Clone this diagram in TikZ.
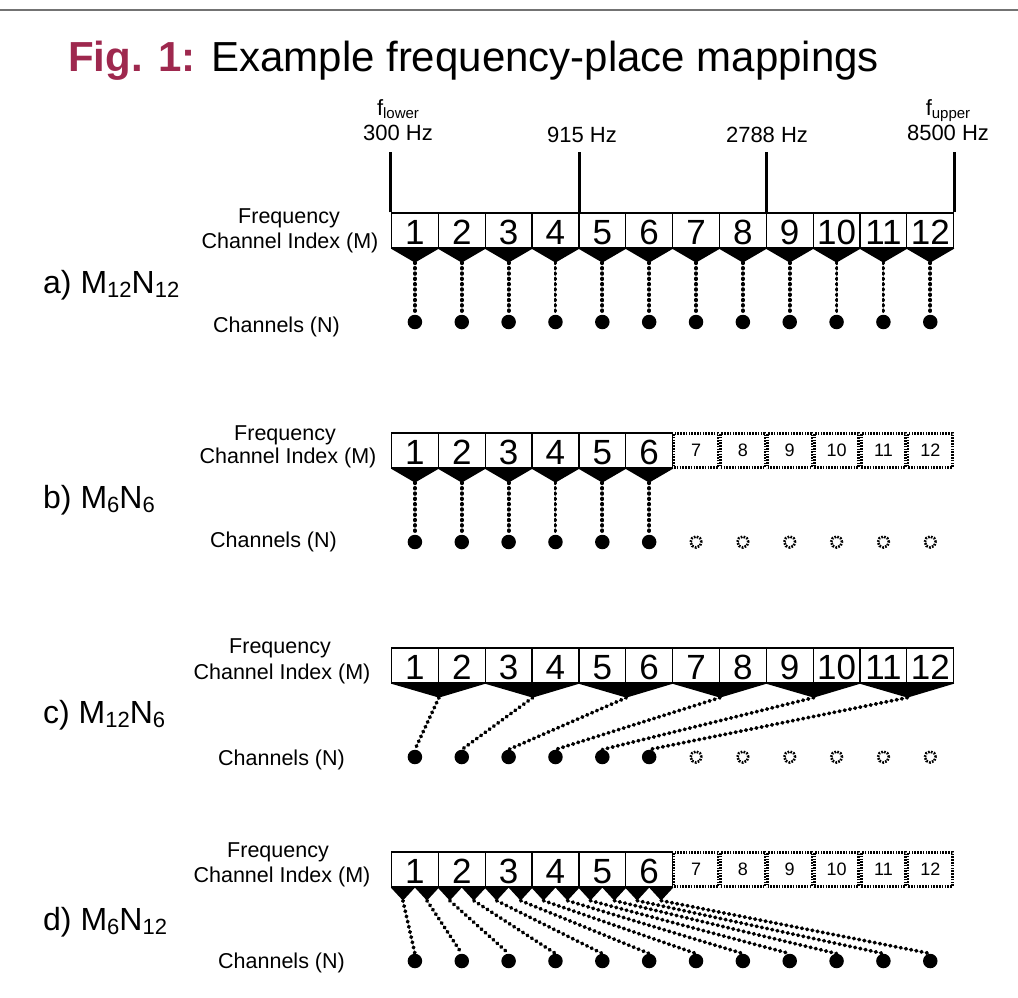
\documentclass[tikz,border=0pt]{standalone}
\usepackage{fontspec}
\setmainfont{Liberation Sans}
\usetikzlibrary{calc}
\definecolor{figred}{RGB}{158,40,78}
\newcommand\panelsub[1]{\raisebox{-4.5pt}{\fontsize{22}{22}\selectfont #1}}
\newcommand\freqsub[1]{\raisebox{-3pt}{\fontsize{15}{15}\selectfont #1}}
\def\xo{391.5}
\def\bw{46.85}
\begin{document}
\begin{tikzpicture}[x=1pt,y=-1pt,
  chanbox/.style={draw,line width=1.2pt,minimum width=46.85pt,minimum height=35pt,inner sep=0pt,
    font=\fontsize{35}{35}\selectfont,text height=28.5pt,text depth=0pt},
  ghostbox/.style={draw,line width=2.6pt,dash pattern=on 1.6pt off 1.2pt,minimum width=44.2pt,
    minimum height=34.2pt,inner sep=0pt,font=\fontsize{18}{18}\selectfont},
  dot/.style={circle,fill,inner sep=0pt,minimum size=14.5pt},
  odot/.style={circle,draw,line width=2.6pt,dash pattern=on 1.7pt off 1.3pt,inner sep=0pt,minimum size=11pt},
  dotline/.style={line width=3.8pt,dash pattern=on 0.7pt off 4.6pt,line cap=round},
  tick/.style={line width=3pt},
  lbl/.style={anchor=base,inner sep=0pt,font=\fontsize{21.5}{24}\selectfont},
  hz/.style={anchor=base,inner sep=0pt,font=\fontsize{22}{24}\selectfont},
  plabel/.style={anchor=base west,inner sep=0pt,font=\fontsize{32}{32}\selectfont}]
\useasboundingbox (0,0) rectangle (1018,997);

% header rule and title
\draw[line width=2pt,black!55] (0,10) -- (1018,10);
\node[anchor=base west,inner sep=0pt,font=\fontsize{42}{48}\selectfont] (title) at (68,71)
  {\textcolor{figred}{\bfseries Fig. 1:} Example frequency-place mappings};

% ---------------- a) M12N12 ----------------
\foreach \k in {1,...,12}
  \node[chanbox] (a-m\k) at ({\xo+(\k-0.5)*\bw},230.5) {\k};
\foreach \k in {1,...,12}{
  \fill (a-m\k.south west) -- (a-m\k.south east) -- ([yshift=-14pt]a-m\k.south) -- cycle;
  \coordinate (a-t\k) at ([yshift=-14pt]a-m\k.south);
  \node[dot] (a-n\k) at ({\xo+(\k-0.5)*\bw},322) {};
  \draw[dotline] (a-t\k) -- (a-n\k.north);
}
% frequency boundaries
\draw[tick] (a-m1.north west) -- ++(0,-60) coordinate (k1);
\draw[tick] (a-m4.north east) -- ++(0,-60) coordinate (k2);
\draw[tick] (a-m8.north east) -- ++(0,-60) coordinate (k3);
\draw[tick] (a-m12.north east) -- ++(0,-60) coordinate (k4);
\node[hz] (fl) at (398,115) {f\freqsub{lower}};
\node[hz] (hz1) at (398,140) {300 Hz};
\node[hz] (hz2) at (582,142) {915 Hz};
\node[hz] (hz3) at (767,142) {2788 Hz};
\node[hz] (fu) at (948,115) {f\freqsub{upper}};
\node[hz] (hz4) at (948,140) {8500 Hz};

\node[lbl] (a-f) at (289,223) {Frequency};
\node[lbl] (a-ci) at (290,248) {Channel Index (M)};
\node[lbl,anchor=base west] (a-ch) at (213,332) {Channels (N)};
\node[plabel] (a-lab) at (43,293) {a) M\panelsub{12}N\panelsub{12}};

% ---------------- b) M6N6 ----------------
\foreach \k in {1,...,6}
  \node[chanbox] (b-m\k) at ({\xo+(\k-0.5)*\bw},450.5) {\k};
\foreach \k in {7,...,12}
  \node[ghostbox] (b-m\k) at ({\xo+(\k-0.5)*\bw},450.5) {\k};
\foreach \k in {1,...,6}{
  \fill (b-m\k.south west) -- (b-m\k.south east) -- ([yshift=-14pt]b-m\k.south) -- cycle;
  \coordinate (b-t\k) at ([yshift=-14pt]b-m\k.south);
  \node[dot] (b-n\k) at ({\xo+(\k-0.5)*\bw},542) {};
  \draw[dotline] (b-t\k) -- (b-n\k.north);
}
\foreach \k in {7,...,12}
  \node[odot] (b-n\k) at ({\xo+(\k-0.5)*\bw},542) {};
\node[lbl] (b-f) at (285,440) {Frequency};
\node[lbl] (b-ci) at (288,463) {Channel Index (M)};
\node[lbl,anchor=base west] (b-ch) at (210,547) {Channels (N)};
\node[plabel] (b-lab) at (43,508) {b) M\panelsub{6}N\panelsub{6}};

% ---------------- c) M12N6 ----------------
\foreach \k in {1,...,12}
  \node[chanbox] (c-m\k) at ({\xo+(\k-0.5)*\bw},665.5) {\k};
\foreach \k [evaluate=\k as \ka using int(2*\k-1), evaluate=\k as \kb using int(2*\k)] in {1,...,6}{
  \fill (c-m\ka.south west) -- (c-m\kb.south east) -- ([yshift=-14pt]c-m\ka.south east) -- cycle;
  \coordinate (c-t\k) at ([yshift=-14pt]c-m\ka.south east);
  \node[dot] (c-n\k) at ({\xo+(\k-0.5)*\bw},757) {};
  \draw[dotline] (c-t\k) -- (c-n\k.north);
}
\foreach \k in {7,...,12}
  \node[odot] (c-n\k) at ({\xo+(\k-0.5)*\bw},757) {};
\node[lbl] (c-f) at (280,653) {Frequency};
\node[lbl] (c-ci) at (282,679) {Channel Index (M)};
\node[lbl,anchor=base west] (c-ch) at (218,765) {Channels (N)};
\node[plabel] (c-lab) at (43,723) {c) M\panelsub{12}N\panelsub{6}};

% ---------------- d) M6N12 ----------------
\foreach \k in {1,...,6}
  \node[chanbox] (d-m\k) at ({\xo+(\k-0.5)*\bw},869.5) {\k};
\foreach \k in {7,...,12}
  \node[ghostbox] (d-m\k) at ({\xo+(\k-0.5)*\bw},869.5) {\k};
\foreach \k [evaluate=\k as \ka using int(2*\k-1), evaluate=\k as \kb using int(2*\k)] in {1,...,6}{
  \fill (d-m\k.south west) -- (d-m\k.south) -- ([yshift=-13pt]$(d-m\k.south west)!0.5!(d-m\k.south)$) -- cycle;
  \fill (d-m\k.south) -- (d-m\k.south east) -- ([yshift=-13pt]$(d-m\k.south)!0.5!(d-m\k.south east)$) -- cycle;
  \coordinate (d-t\ka) at ([yshift=-13pt]$(d-m\k.south west)!0.5!(d-m\k.south)$);
  \coordinate (d-t\kb) at ([yshift=-13pt]$(d-m\k.south)!0.5!(d-m\k.south east)$);
}
\foreach \k in {1,...,12}{
  \node[dot] (d-n\k) at ({\xo+(\k-0.5)*\bw},961) {};
  \draw[dotline] (d-t\k) -- (d-n\k.north);
}
\node[lbl] (d-f) at (278,857) {Frequency};
\node[lbl] (d-ci) at (282,882) {Channel Index (M)};
\node[lbl,anchor=base west] (d-ch) at (218,968) {Channels (N)};
\node[plabel] (d-lab) at (43,930) {d) M\panelsub{6}N\panelsub{12}};
\end{tikzpicture}
\end{document}
